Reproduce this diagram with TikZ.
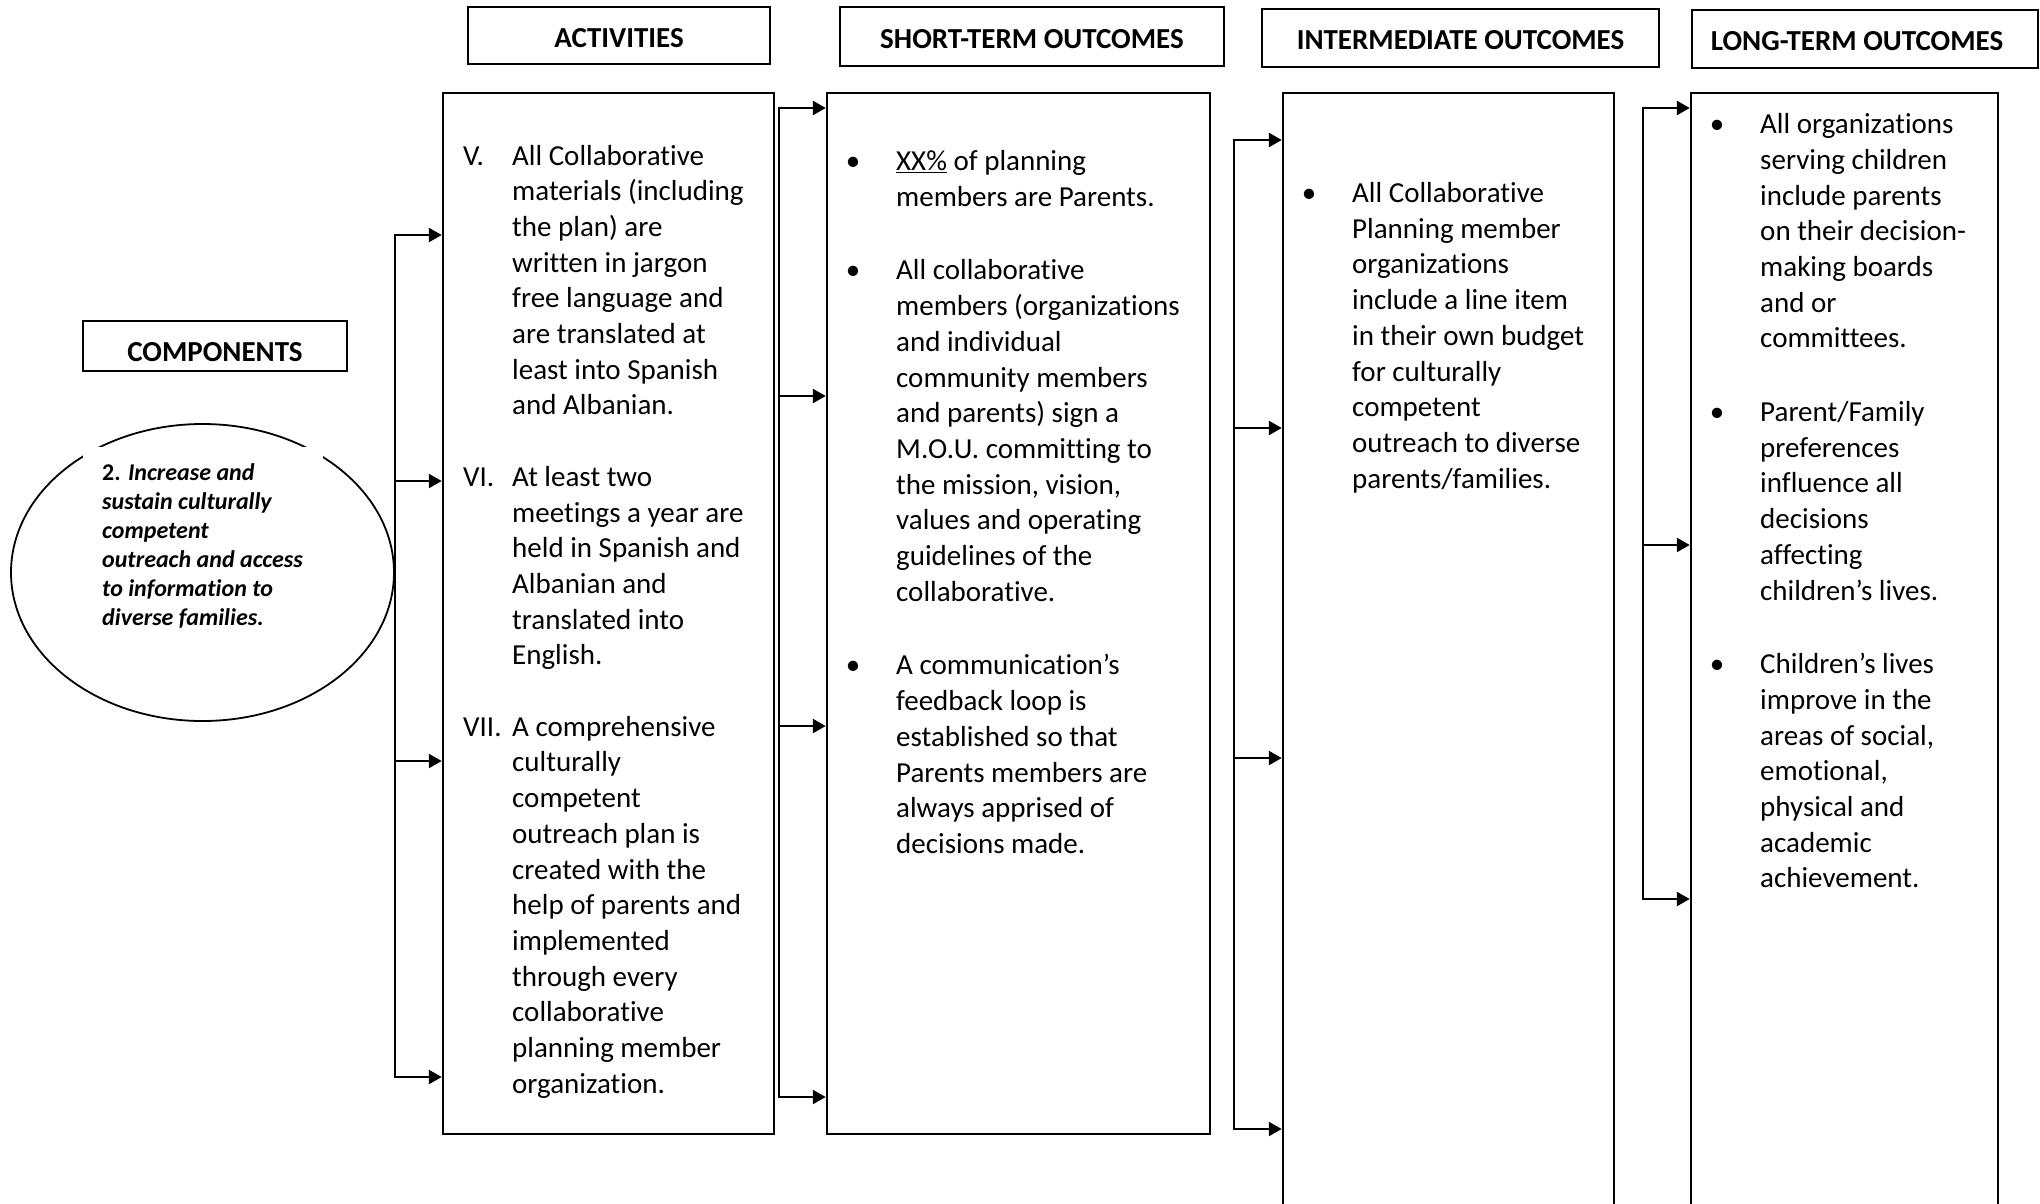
\documentclass[tikz,border=0pt]{standalone}
\usepackage{fontspec}
\setmainfont{Carlito}[Ligatures=NoCommon]
\usetikzlibrary{arrows.meta,shapes.geometric}

% hanging labels for the numbered and bulleted lists
\newcommand\numlbl[1]{\makebox[49pt][l]{#1}}
\newcommand\bul{\makebox[43pt][l]{\makebox[0pt]{\textbullet}}}

\begin{document}
\begin{tikzpicture}[x=1pt,y=-1pt,
  box/.style={draw, line width=2.5pt, rectangle, inner sep=0pt},
  hdr/.style={box, font=\fontsize{29}{35.7}\selectfont\bfseries, text height=25pt, text depth=2pt},
  body/.style={anchor=base west, inner sep=0pt, font=\fontsize{29}{35.7}\selectfont},
  wire/.style={line width=2.5pt},
  arr/.style={wire, -{Triangle[length=13pt,width=14pt]}},
]
\useasboundingbox (0,0) rectangle (2040,1203);
\clip (0,0) rectangle (2040,1203);

% column headers
\node[hdr, minimum width=302pt, minimum height=57pt] (hact) at (619,35.5) {ACTIVITIES};
\node[hdr, minimum width=384pt, minimum height=59pt] (hst) at (1032,36.5) {SHORT-TERM OUTCOMES};
\node[hdr, minimum width=397pt, minimum height=58pt] (hint) at (1460.5,38) {INTERMEDIATE OUTCOMES};
\node[hdr, minimum width=346pt, minimum height=58pt] (hlt) at (1865,39) {LONG-TERM OUTCOMES\hspace*{16pt}};
\node[hdr, text height=33pt, minimum width=264pt, minimum height=50pt] (hcomp) at (215,346) {COMPONENTS};

% component ellipse with its text panel
\node[draw, ellipse, line width=1.8pt, minimum width=383pt, minimum height=297pt, inner sep=0pt] (goal) at (202.5,572.5) {};
\fill[white] (83,447) rectangle (323,645);
\node[anchor=base west, inner sep=0pt, font=\fontsize{24}{29}\selectfont\bfseries\itshape] (goaltext) at (102,480)
{\begin{tabular}[t]{@{}l@{}}
{\upshape 2.} Increase and\\
sustain culturally\\
competent\\
outreach and access\\
to information to\\
diverse families.
\end{tabular}};

% column boxes
\node[box, minimum width=331pt, minimum height=1041pt] (act) at (608.5,613.5) {};
\node[box, minimum width=383pt, minimum height=1041pt] (st) at (1018.5,613.5) {};
\node[box, minimum width=331pt, minimum height=1147pt] (int) at (1448.5,666.5) {};
\node[box, minimum width=307pt, minimum height=1147pt] (lt) at (1844.5,666.5) {};

% activities
\node[body] (acttext) at (463,165)
{\begin{tabular}[t]{@{}l@{}l@{}}
\numlbl{V.} & All Collaborative\\
 & materials (including\\
 & the plan) are\\
 & written in jargon\\
 & free language and\\
 & are translated at\\
 & least into Spanish\\
 & and Albanian.\\[35.7pt]
\numlbl{VI.} & At least two\\
 & meetings a year are\\
 & held in Spanish and\\
 & Albanian and\\
 & translated into\\
 & English.\\[35.7pt]
\numlbl{VII.} & A comprehensive\\
 & culturally\\
 & competent\\
 & outreach plan is\\
 & created with the\\
 & help of parents and\\
 & implemented\\
 & through every\\
 & collaborative\\
 & planning member\\
 & organization.
\end{tabular}};

% short-term outcomes
\node[body] (sttext) at (853,170.5)
{\begin{tabular}[t]{@{}l@{}l@{}}
\bul & \underline{XX\%} of planning\\
 & members are Parents.\\[38pt]
\bul & All collaborative\\
 & members (organizations\\
 & and individual\\
 & community members\\
 & and parents) sign a\\
 & M.O.U. committing to\\
 & the mission, vision,\\
 & values and operating\\
 & guidelines of the\\
 & collaborative.\\[38pt]
\bul & A communication’s\\
 & feedback loop is\\
 & established so that\\
 & Parents members are\\
 & always apprised of\\
 & decisions made.
\end{tabular}};

% intermediate outcomes
\node[body] (inttext) at (1309,202.5)
{\begin{tabular}[t]{@{}l@{}l@{}}
\bul & All Collaborative\\
 & Planning member\\
 & organizations\\
 & include a line item\\
 & in their own budget\\
 & for culturally\\
 & competent\\
 & outreach to diverse\\
 & parents/families.
\end{tabular}};

% long-term outcomes
\node[body] (lttext) at (1717,133.6)
{\begin{tabular}[t]{@{}l@{}l@{}}
\bul & All organizations\\
 & serving children\\
 & include parents\\
 & on their decision-\\
 & making boards\\
 & and or\\
 & committees.\\[38pt]
\bul & Parent/Family\\
 & preferences\\
 & influence all\\
 & decisions\\
 & affecting\\
 & children’s lives.\\[38pt]
\bul & Children’s lives\\
 & improve in the\\
 & areas of social,\\
 & emotional,\\
 & physical and\\
 & academic\\
 & achievement.
\end{tabular}};

% bracket: components -> activities
\coordinate (a1) at (395,235);
\coordinate (a2) at (395,481);
\coordinate (a3) at (395,761);
\coordinate (a4) at (395,1077);
\draw[arr] (a4) -- (a1) -- (a1 -| act.west);
\draw[arr] (a1) -- (a4) -- (a4 -| act.west);
\draw[arr] (a2) -- (a2 -| act.west);
\draw[arr] (a3) -- (a3 -| act.west);

% bracket: activities -> short-term
\coordinate (s1) at (779,108);
\coordinate (s2) at (779,396);
\coordinate (s3) at (779,726);
\coordinate (s4) at (779,1097);
\draw[arr] (s4) -- (s1) -- (s1 -| st.west);
\draw[arr] (s1) -- (s4) -- (s4 -| st.west);
\draw[arr] (s2) -- (s2 -| st.west);
\draw[arr] (s3) -- (s3 -| st.west);

% bracket: short-term -> intermediate
\coordinate (i1) at (1234,140);
\coordinate (i2) at (1234,428);
\coordinate (i3) at (1234,758);
\coordinate (i4) at (1234,1129);
\draw[arr] (i4) -- (i1) -- (i1 -| int.west);
\draw[arr] (i1) -- (i4) -- (i4 -| int.west);
\draw[arr] (i2) -- (i2 -| int.west);
\draw[arr] (i3) -- (i3 -| int.west);

% bracket: intermediate -> long-term
\coordinate (l1) at (1643,108);
\coordinate (l2) at (1643,545);
\coordinate (l3) at (1643,899);
\draw[arr] (l3) -- (l1) -- (l1 -| lt.west);
\draw[arr] (l1) -- (l3) -- (l3 -| lt.west);
\draw[arr] (l2) -- (l2 -| lt.west);
\end{tikzpicture}
\end{document}
